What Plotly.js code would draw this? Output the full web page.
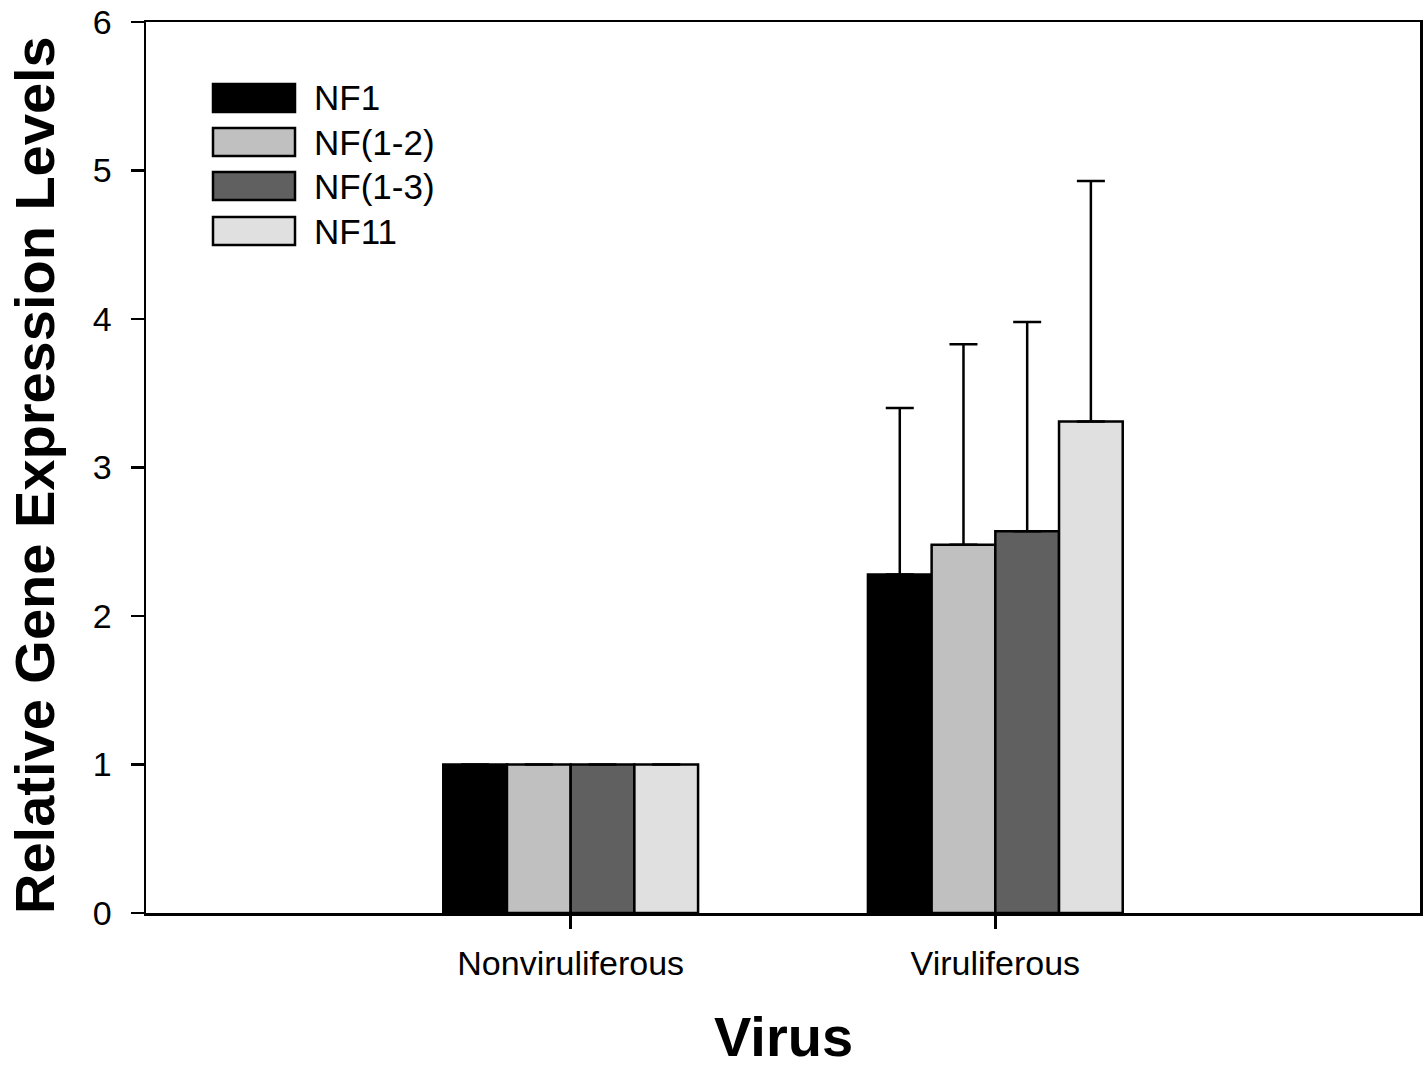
<!DOCTYPE html>
<html>
<head>
<meta charset="utf-8">
<script src="https://cdn.plot.ly/plotly-3.0.1.min.js"></script>
<style>html,body{margin:0;padding:0;background:#fff;}#chart{width:1427px;height:1070px;}</style>
</head>
<body>
<div id="chart"></div>
<script>
// ---- data ----
var categories = ["Nonviruliferous", "Viruliferous"];
var seriesNames = ["NF1", "NF(1-2)", "NF(1-3)", "NF11"];
var nf1 = [1.0, 2.28];
var nf12 = [1.0, 2.48];
var nf13 = [1.0, 2.57];
var nf11 = [1.0, 3.31];
var nf1Err = [null, 1.12];
var nf12Err = [null, 1.35];
var nf13Err = [null, 1.41];
var nf11Err = [null, 1.62];
var yTickVals = [0, 1, 2, 3, 4, 5, 6];
var xTitle = "Virus";
var yTitle = "Relative Gene Expression Levels";

// ---- styling ----
var fills = ["#000000", "#c0c0c0", "#606060", "#e0e0e0"];
var values = [nf1, nf12, nf13, nf11];
var errs = [nf1Err, nf12Err, nf13Err, nf11Err];
var FONT = "Liberation Sans, Arial, sans-serif";

var traces = seriesNames.map(function (name, i) {
  return {
    type: "bar",
    name: name,
    x: categories,
    y: values[i],
    marker: { color: fills[i], line: { color: "#000", width: 2.5 } },
    error_y: {
      type: "data", symmetric: false, array: errs[i],
      arrayminus: errs[i].map(function () { return 0; }),
      color: "#000", thickness: 2.5, width: 14
    },
    showlegend: false
  };
});

// plot area in pixels: left 146, right 1420, top 22, bottom 913
var L = 146, R = 1420, T = 22, B = 913;
function px2x(p) { return (p - L) / (R - L); }
function py2y(p) { return (B - p) / (B - T); }

var shapes = [], annotations = [];
var legendCenters = [98, 142, 186, 231];
seriesNames.forEach(function (name, i) {
  var c = legendCenters[i];
  shapes.push({
    type: "rect", xref: "paper", yref: "paper",
    x0: px2x(213), x1: px2x(295), y0: py2y(c + 14), y1: py2y(c - 14),
    fillcolor: fills[i], line: { color: "#000", width: 2.5 }
  });
  annotations.push({
    xref: "paper", yref: "paper", x: px2x(312), y: py2y(c),
    xanchor: "left", yanchor: "middle", showarrow: false,
    text: name, font: { family: FONT, size: 35, color: "#000" }
  });
});
// axis titles
annotations.push({
  xref: "paper", yref: "paper", x: px2x(783), y: py2y(1069),
  xanchor: "center", yanchor: "bottom", showarrow: false, borderpad: 0,
  text: "<b>" + xTitle + "</b>", font: { family: FONT, size: 56, color: "#000" }
});
annotations.push({
  xref: "paper", yref: "paper", x: px2x(34), y: py2y(475),
  xanchor: "center", yanchor: "middle", showarrow: false, textangle: -90,
  text: "<b>" + yTitle + "</b>", font: { family: FONT, size: 56, color: "#000" }
});

var layout = {
  width: 1427, height: 1070,
  margin: { l: L, r: 1427 - R, t: T, b: 1070 - B },
  paper_bgcolor: "#fff", plot_bgcolor: "#fff",
  barmode: "group", bargap: 0.4, bargroupgap: 0,
  font: { family: FONT, color: "#000" },
  xaxis: {
    type: "category", range: [-1, 2],
    showline: true, linecolor: "#000", linewidth: 2.5, mirror: true,
    ticks: "outside", ticklen: 13, tickwidth: 2.5, tickcolor: "#000",
    ticklabelstandoff: 6,
    showgrid: false, zeroline: false,
    tickfont: { family: FONT, size: 34, color: "#000" }
  },
  yaxis: {
    range: [0, 6], tickvals: yTickVals,
    showline: true, linecolor: "#000", linewidth: 2.5, mirror: true,
    ticks: "outside", ticklen: 13, tickwidth: 2.5, tickcolor: "#000",
    ticklabelstandoff: 12,
    showgrid: false, zeroline: false,
    tickfont: { family: FONT, size: 34, color: "#000" }
  },
  shapes: shapes,
  annotations: annotations
};

Plotly.newPlot("chart", traces, layout, { displayModeBar: false, staticPlot: true });
</script>
</body>
</html>
